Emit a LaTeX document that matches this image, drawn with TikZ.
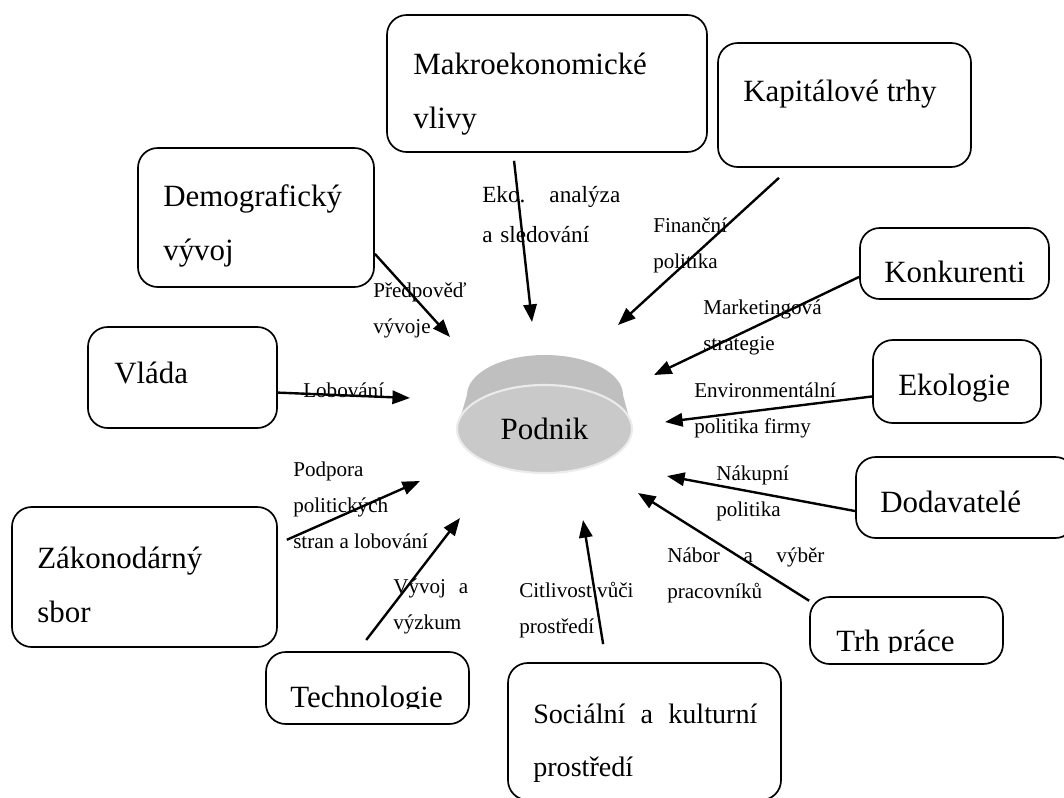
\documentclass[tikz,border=0pt]{standalone}
\usepackage{fontspec}
\setmainfont{Liberation Serif}
\usetikzlibrary{arrows.meta,fit,shapes.geometric}
\newcommand\boxfont{\fontsize{22}{37.7}\selectfont}
\newcommand\notefont{\fontsize{15}{25.6}\selectfont}
\tikzset{
       box/.style = { draw, line width=1.2pt, rounded corners=14pt, inner sep=0pt },
     words/.style = { font=\boxfont, anchor=base west, align=left, inner sep=0pt },
      note/.style = { font=\notefont, anchor=base west, align=left, inner sep=0pt },
     arrow/.style = { line width=1.7pt, -{Triangle[length=12.5pt,width=9.5pt]} }
}
\begin{document}
\begin{tikzpicture}[x=0.025cm, y=-0.025cm]
  \clip (0,0) rectangle (1064,797);

  \node[box, fit={(387,15)(707,152)}]  (makro)   {};
  \node[box, fit={(718,43)(971,167)}]  (kapital) {};
  \node[box, fit={(138,148)(374,287)}] (demo)    {};
  \node[box, fit={(88,327)(277,428)}]  (vlada)   {};
  \node[box, fit={(860,228)(1049,299)}] (konk)   {};
  \node[box, fit={(873,340)(1041,423)}] (eko)    {};
  \node[box, fit={(856,457)(1075,538)}] (doda)   {};
  \node[box, fit={(810,597)(1003,664)}] (trh)    {};
  \node[box, fit={(12,507)(277,647)}]  (zakon)   {};
  \node[box, fit={(266,652)(469,724)}] (tech)    {};
  \node[box, fit={(508,663)(781,800)}] (soc)     {};

  \node[words] (makro-t)   at (413,128) {Makroekonomické\\vlivy};
  \node[words] (kapital-t) at (743,101) {Kapitálové trhy};
  \node[words] (demo-t)    at (163,260) {Demografický\\vývoj};
  \node[words] (vlada-t)   at (114,383) {Vláda};
  \node[words] (konk-t)    at (884,282) {Konkurenti};
  \node[words] (eko-t)     at (898,395) {Ekologie};
  \node[words] (doda-t)    at (880,512) {Dodavatelé};
  \node[words] (zakon-t)   at (37,622)  {Zákonodárný\\sbor};
  \node[words, font=\fontsize{20}{38}\selectfont, text width=5.6cm] (soc-t) at (533,723)
    {Sociální\hfill a\hfill kulturní\\prostředí};
  \begin{scope}
    \clip (810,597) rectangle (1003,652);
    \node[words] (trh-t) at (836,651) {Trh práce};
  \end{scope}
  \begin{scope}
    \clip (266,652) rectangle (469,708);
    \node[words] (tech-t) at (290,707) {Technologie};
  \end{scope}

  \shade[left color=black!25, middle color=black!58, right color=black!25]
    (457,429) -- (467,395) arc[start angle=180, end angle=360, x radius=78, y radius=40] -- (632,429) -- cycle;
  \node[ellipse, fill=black!21, draw=black!8, line width=1.5pt, minimum width=4.375cm,
        minimum height=2.2cm, font=\boxfont, text depth=-0.2cm] (podnik) at (544.5,429) {Podnik};

  \node[note, font=\fontsize{16.5}{28.5}\selectfont, text width=3.45cm] (makro-n) at (482,202)
    {Eko.\hfill analýza\\a sledování};
  \node[note] (kapital-n) at (653,268) {Finanční\\politika};
  \node[note] (demo-n)    at (373,333) {Předpověď\\vývoje};
  \node[note] (vlada-n)   at (303,397) {Lobování};
  \node[note] (konk-n)    at (703,350) {Marketingová\\strategie};
  \node[note] (eko-n)     at (694,433) {Environmentální\\politika firmy};
  \node[note] (doda-n)    at (716,516) {Nákupní\\politika};
  \node[note, text width=3.93cm] (trh-n) at (667,562) {Nábor\hfill a\hfill výběr\\pracovníků};
  \node[note] (soc-n)     at (519,633) {Citlivost vůči\\prostředí};
  \node[note, text width=1.875cm] (tech-n) at (393,593) {Vývoj\hfill a\\výzkum};
  \node[note] (zakon-n)   at (293,548) {Podpora\\politických\\stran a lobování};

  \coordinate (makro-tip)   at (532,322);
  \coordinate (kapital-tip) at (618,325);
  \coordinate (demo-tip)    at (450,337);
  \coordinate (vlada-tip)   at (410,398);
  \coordinate (konk-tip)    at (654,375);
  \coordinate (eko-tip)     at (665,422);
  \coordinate (doda-tip)    at (667,476);
  \coordinate (trh-tip)     at (638,493);
  \coordinate (soc-tip)     at (583,520);
  \coordinate (tech-tip)    at (460,518);
  \coordinate (zakon-tip)   at (420,481);

  \foreach \n/\a/\s in {makro/-116/5.7pt, kapital/-131/10.5pt, demo/-17/0pt, vlada/-9/0pt,
                        konk/188/0pt, eko/190/0pt, doda/187/0pt, trh/163/0pt,
                        soc/119/13pt, tech/105/10pt, zakon/14/7pt} {
    \draw[arrow, shorten <=\s] (\n.\a) -- (\n-tip);
  }
\end{tikzpicture}
\end{document}
